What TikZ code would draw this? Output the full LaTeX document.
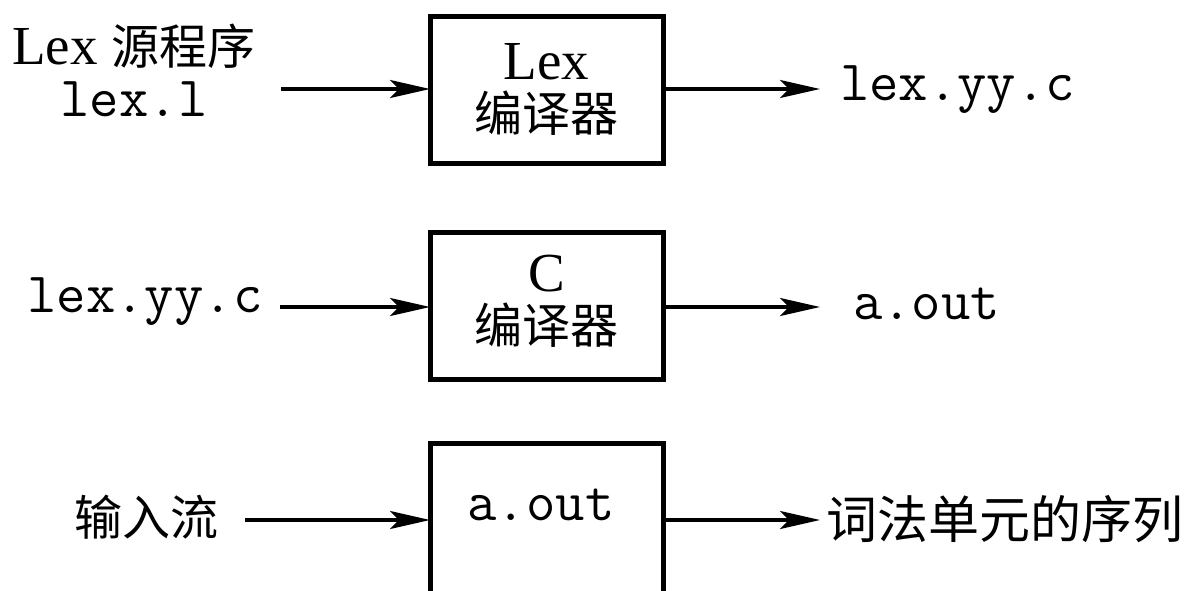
\documentclass[tikz,border=0pt]{standalone}
\usepackage{fontspec}
\setmainfont{Liberation Serif}
\newfontfamily\cjkfam{Noto Sans CJK SC}
\newcommand\cjktext[1]{{\fontsize{48}{52}\selectfont\cjkfam #1}}
\usetikzlibrary{arrows.meta}
\begin{document}
\begin{tikzpicture}[x=1pt,y=-1pt,
  every node/.style={font=\fontsize{55}{52}\selectfont, inner sep=0pt, outer sep=0pt},
  box/.style={draw, line width=5pt, minimum width=233pt, minimum height=147pt},
  arr/.style={line width=3.5pt, -{Stealth[length=40pt,width=18pt,inset=9pt]}},
  mono/.style={font=\fontsize{57}{60}\selectfont\ttfamily}]
\useasboundingbox (0,0) rectangle (1197,591);
% boxes
\node[box] (box1) at (546.5,90) {};
\node[box] (box2) at (546.5,306) {};
\node[box, minimum height=220pt] (box3) at (546.5,553) {};
% box texts
\node[align=center] (t1) at (546.5,89) {Lex\\\cjktext{编译器}};
\node[align=center] (t2) at (546.5,301) {C\\\cjktext{编译器}};
\node[mono] (t3) at (541,505) {a.out};
% inputs
\node[align=center] (in1) at (134,70) {Lex \cjktext{源程序}\\{\fontsize{57}{52}\selectfont\ttfamily lex.l}};
\node[mono] (in2) at (145,302) {lex.yy.c};
\node (in3) at (146,517) {\cjktext{输入流}};
% outputs
\node[mono, anchor=west] (out1) at (840,90) {lex.yy.c};
\node[mono, anchor=west] (out2) at (853,304) {a.out};
\node[anchor=west] (out3) at (826,519) {\fontsize{51}{52}\selectfont\cjkfam 词法单元的序列};
% connector ends
\coordinate (s1) at (281,89);
\coordinate (s2) at (280,307);
\coordinate (s3) at (245,520);
\coordinate (e1) at (820,89);
\coordinate (e2) at (820,307);
\coordinate (e3) at (820,520);
\draw[arr] (s1) -- (s1 -| box1.west);
\draw[arr] (s1 -| box1.east) -- (e1);
\draw[arr] (s2) -- (s2 -| box2.west);
\draw[arr] (s2 -| box2.east) -- (e2);
\draw[arr] (s3) -- (s3 -| box3.west);
\draw[arr] (s3 -| box3.east) -- (e3);
\end{tikzpicture}
\end{document}
